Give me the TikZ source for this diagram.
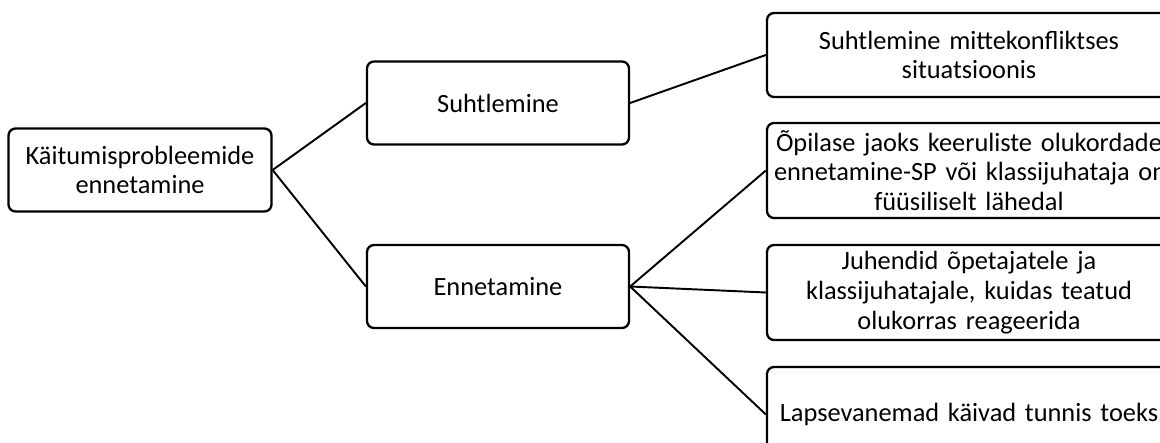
\documentclass[tikz,border=0pt]{standalone}
\usepackage{fontspec}
\setmainfont{Carlito}
\tikzset{
  box/.style={draw, line width=1.3pt, rounded corners=4pt, align=center, minimum height=1.66cm},
  midbox/.style={box, minimum width=5.24cm},
  leaf/.style={box, text width=7.8cm, inner xsep=0.14cm, minimum height=1.9cm},
  link/.style={line width=1.1pt}
}
\begin{document}
\begin{tikzpicture}[font=\fontsize{15}{17}\selectfont]
 \clip (0,0) rectangle (23.2,8.86);
 \node[box, minimum width=5.26cm] (root) at (2.8,5.46) {Käitumisprobleemide\\ ennetamine};
 \node[midbox] (talk) at (9.96,6.8) {Suhtlemine};
 \node[midbox] (prevent) at (9.96,3.13) {Ennetamine};
 \node[leaf, minimum height=1.68cm] (calm) at (19.38,7.76) {Suhtlemine mittekonfliktses\\ situatsioonis};
 \node[leaf] (near) at (19.38,5.45) {\mbox{Õpilase jaoks keeruliste olukordade}\\ \mbox{ennetamine-SP või klassijuhataja on}\\ füüsiliselt lähedal};
 \node[leaf] (guide) at (19.38,3.01) {Juhendid õpetajatele ja\\ klassijuhatajale, kuidas teatud\\ olukorras reageerida};
 \node[leaf] (parents) at (19.38,0.57) {Lapsevanemad käivad tunnis toeks};
 \draw[link] (root.east) -- (talk.west);
 \draw[link] (root.east) -- (prevent.west);
 \draw[link] (talk.east) -- (calm.west);
 \draw[link] (prevent.east) -- (near.west);
 \draw[link] (prevent.east) -- (guide.west);
 \draw[link] (prevent.east) -- (parents.west);
\end{tikzpicture}
\end{document}
